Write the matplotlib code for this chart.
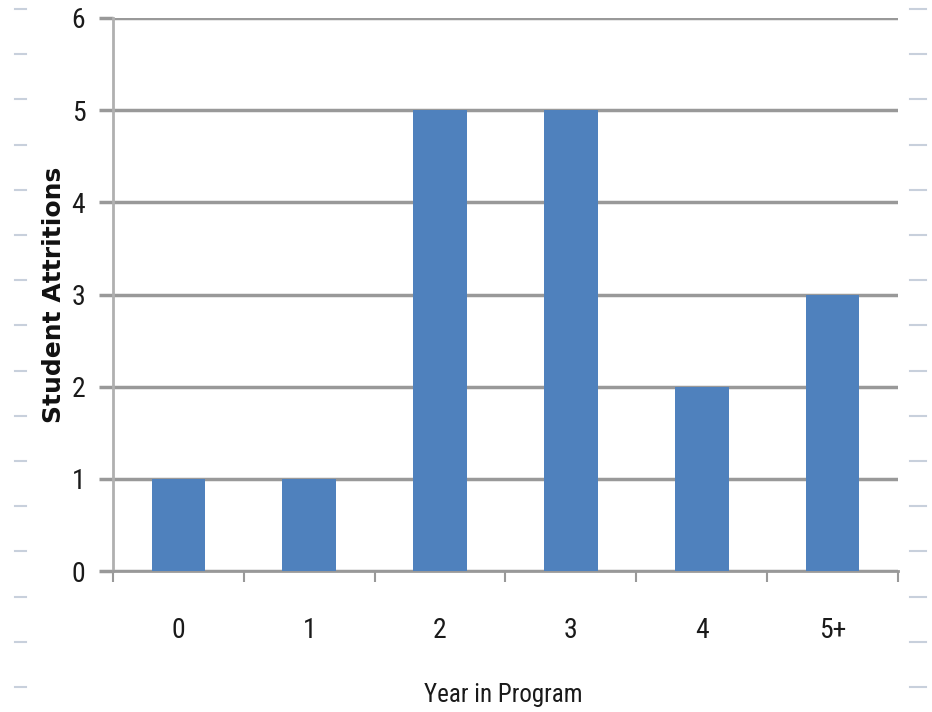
import matplotlib
matplotlib.use("Agg")
import matplotlib.pyplot as plt
from matplotlib.lines import Line2D
from matplotlib import font_manager
import numpy as np

years = ['0', '1', '2', '3', '4', '5+']
attritions = [1, 1, 5, 5, 2, 3]

installed = {f.name for f in font_manager.fontManager.ttflist}
narrow = [f for f in ['Liberation Sans Narrow', 'DejaVu Sans Condensed', 'Roboto Condensed']
          if f in installed] + ['DejaVu Sans']

fig = plt.figure(figsize=(9.32, 7.12), dpi=100)
ax = fig.add_axes([113/932, 1 - 571/712, (898 - 113)/932, (571 - 18)/712])

x = np.arange(len(years))
ax.bar(x, attritions, width=0.41, color='#4F81BD', zorder=3)

ax.set_xlim(-0.5, len(years) - 0.5)
ax.set_ylim(0, 6)
ax.set_yticks(range(0, 7))
ax.yaxis.grid(True, color='#999999', linewidth=2.5, zorder=0)

# category labels between tick marks
ax.set_xticks(np.arange(-0.5, len(years)))
ax.set_xticklabels([])
ax.set_xticks(x, minor=True)
ax.set_xticklabels(years, minor=True, family=narrow, fontsize=20, color='#1a1a1a')
ax.tick_params(axis='x', which='major', length=8, width=1.5, color='#999999', direction='out')
ax.tick_params(axis='x', which='minor', length=0, pad=33)
ax.tick_params(axis='y', length=10, width=2.5, color='#999999', pad=10, labelcolor='#1a1a1a')
for lab in ax.get_yticklabels():
    lab.set_family(narrow)
    lab.set_fontsize(20)

for s in ['top', 'right']:
    ax.spines[s].set_visible(False)
ax.spines['left'].set_color('#b0b0b0')
ax.spines['left'].set_linewidth(2)
ax.spines['bottom'].set_color('#999999')
ax.spines['bottom'].set_linewidth(2)

ax.set_ylabel('Student Attritions', fontsize=18, fontweight='bold', family='DejaVu Sans',
              labelpad=4, color='#111111')
fig.text(503/932, 1 - 695/712, 'Year in Program', ha='center', va='center',
         family=narrow, fontsize=18, color='#1a1a1a')

# faint dashes down both margins
for k in range(16):
    yy = 1 - (9 + 45.2 * k) / 712
    fig.add_artist(Line2D([15/932, 26/932], [yy, yy], color='#c8d0dc', linewidth=1.5))
    fig.add_artist(Line2D([910/932, 926/932], [yy, yy], color='#c8d0dc', linewidth=1.5))

fig.savefig('out.png', dpi=100)
